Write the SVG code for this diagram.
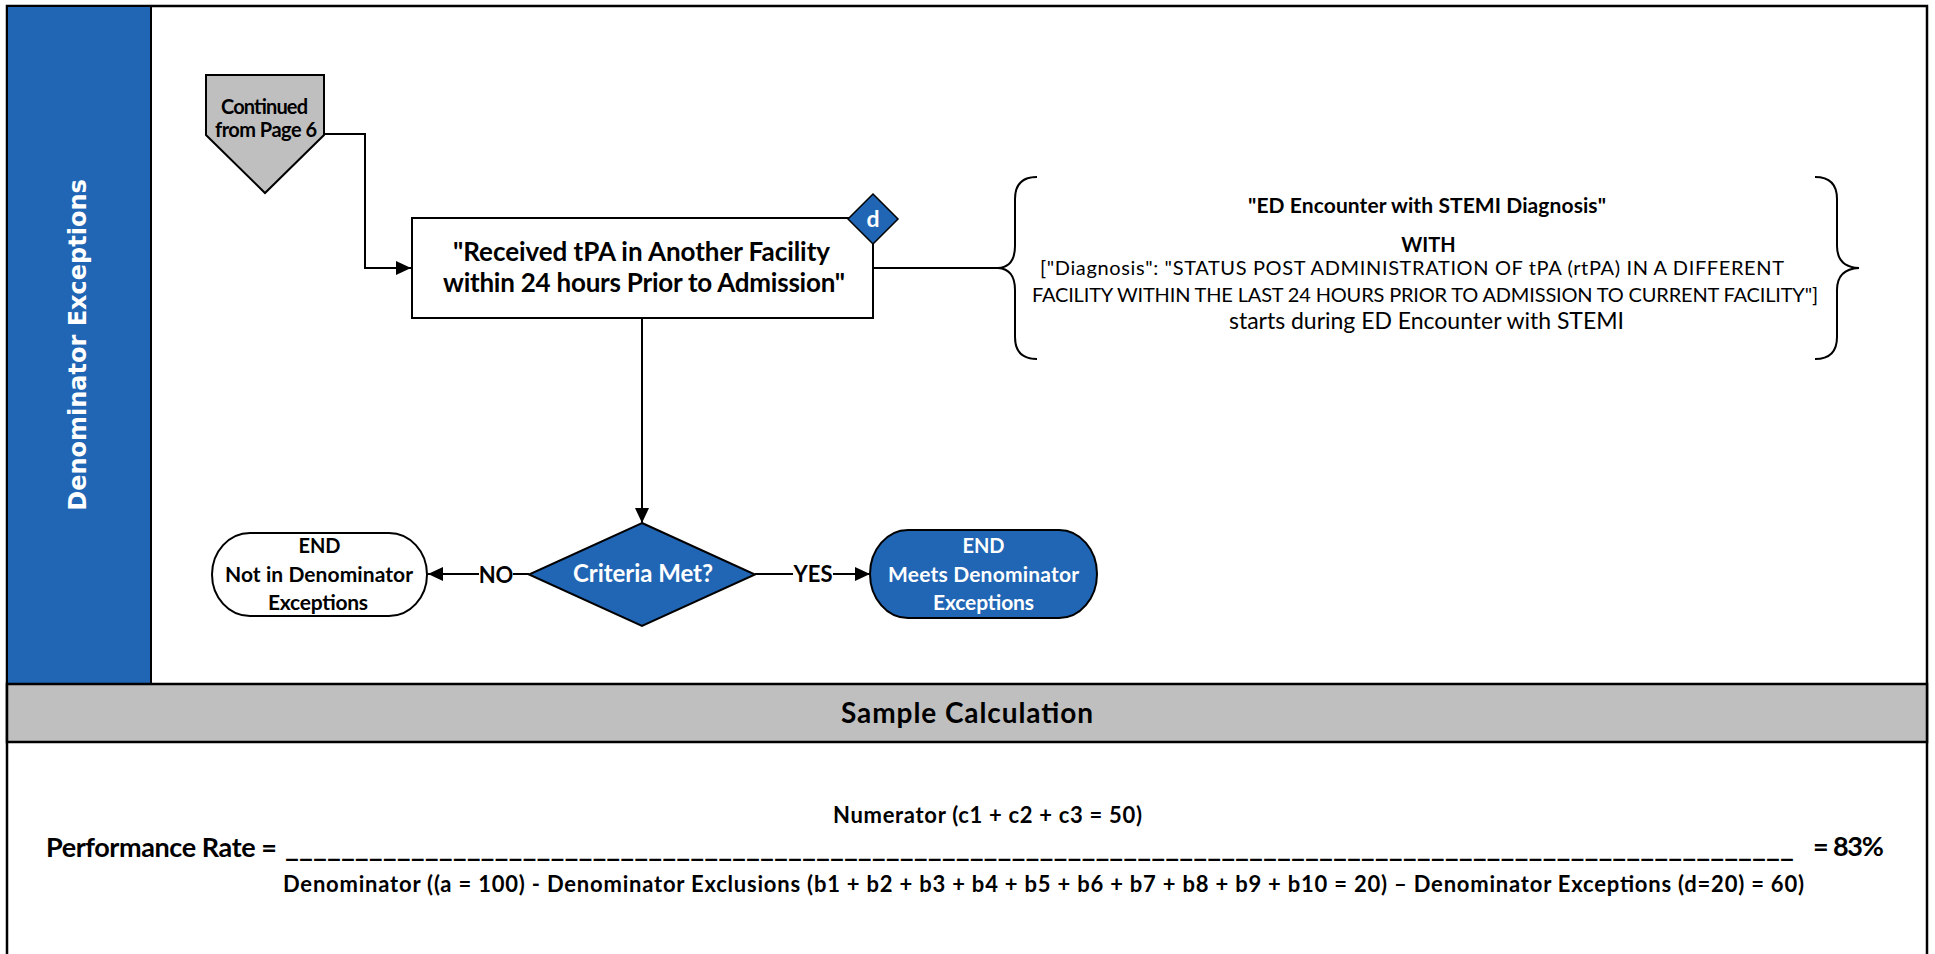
<svg xmlns="http://www.w3.org/2000/svg" width="1935" height="954" viewBox="0 0 1935 954">
<style>
.t{font-family:Lato,'Liberation Sans',sans-serif;fill:#000}
.b{font-weight:bold}
.w{fill:#fff}
.m{text-anchor:middle}
.ln{stroke:#000;stroke-width:2;fill:none}
.blue{fill:#2166B4}
.gray{fill:#BFBFBF}
</style>
<defs>
<marker id="arr" viewBox="0 0 15 14" refX="15" refY="7" markerWidth="15" markerHeight="14" markerUnits="userSpaceOnUse" orient="auto">
<path d="M0,0 L15,7 L0,14 z" fill="#000"/>
</marker>
</defs>
<rect x="0" y="0" width="1935" height="954" fill="#fff"/>

<g id="frame">
<rect x="7" y="6" width="1920" height="960" fill="#fff" stroke="#000" stroke-width="2.5"/>
<rect x="7" y="6" width="144" height="678" class="blue" stroke="#000" stroke-width="2"/>
<text class="t b w m" x="86" y="345" transform="rotate(-90 86 345)" style="font-family:'DejaVu Sans',Verdana,sans-serif;font-size:24px">Denominator Exceptions</text>
<rect x="7" y="684" width="1920" height="58" class="gray" stroke="#000" stroke-width="2.5"/>
<text class="t b m" x="967" y="723" font-size="28" textLength="252">Sample Calculation</text>
</g>

<g id="connectors">
<path class="ln" d="M324 134 H365 V268 H411" marker-end="url(#arr)"/>
<path class="ln" d="M873 268 H998"/>
<path class="ln" d="M642 318 V523" marker-end="url(#arr)"/>
<path class="ln" d="M529 574 H428" marker-end="url(#arr)"/>
<path class="ln" d="M755 574 H870" marker-end="url(#arr)"/>
<rect x="479" y="562" width="34" height="24" fill="#fff"/>
<text class="t b m" x="496" y="583" font-size="22">NO</text>
<rect x="793" y="562" width="40" height="24" fill="#fff"/>
<text class="t b m" x="813" y="582" font-size="22">YES</text>
</g>

<g id="offpage">
<polygon points="206,75 324,75 324,135 265,193 206,135" class="gray" stroke="#000" stroke-width="2"/>
<text class="t b m" x="264.5" y="114" font-size="20" textLength="87">Continued</text>
<text class="t b m" x="266" y="137" font-size="20" textLength="102">from Page 6</text>
</g>

<g id="process">
<rect x="412" y="218" width="461" height="100" fill="#fff" stroke="#000" stroke-width="2"/>
<text class="t b m" x="641.5" y="261" font-size="26" textLength="377">"Received tPA in Another Facility</text>
<text class="t b m" x="644" y="292" font-size="26" textLength="402">within 24 hours Prior to Admission"</text>
</g>

<g id="marker-d">
<polygon points="873,194 898,219 873,244 848,219" class="blue" stroke="#000" stroke-width="1.5"/>
<text class="t b w m" x="873" y="227" font-size="23">d</text>
</g>

<g id="brace-note">
<path class="ln" d="M1037 177 Q1015 177 1015 199 L1015 246 Q1015 267 998 268 Q1015 269 1015 290 L1015 337 Q1015 359 1037 359"/>
<path class="ln" d="M1815 177 Q1837 177 1837 199 L1837 246 Q1837 267 1859 268 Q1837 269 1837 290 L1837 337 Q1837 359 1815 359"/>
<text class="t b m" x="1427" y="213" font-size="21" textLength="358">"ED Encounter with STEMI Diagnosis"</text>
<text class="t b m" x="1428.5" y="252" font-size="20">WITH</text>
<text class="t" x="1040" y="275" font-size="20" textLength="744">["Diagnosis": "STATUS POST ADMINISTRATION OF tPA (rtPA) IN A DIFFERENT</text>
<text class="t" x="1032" y="302" font-size="20" textLength="786">FACILITY WITHIN THE LAST 24 HOURS PRIOR TO ADMISSION TO CURRENT FACILITY"]</text>
<text class="t" x="1229" y="329" font-size="23" textLength="395">starts during ED Encounter with STEMI</text>
</g>

<g id="decision">
<polygon points="642,523 755,574.5 642,626 529,574.5" class="blue" stroke="#000" stroke-width="2"/>
<text class="t b w m" x="643" y="582" font-size="24" textLength="140">Criteria Met?</text>
</g>

<g id="end-no">
<rect x="212" y="533" width="215" height="83" rx="38" ry="41.5" fill="#fff" stroke="#000" stroke-width="2"/>
<text class="t b m" x="319.5" y="553" font-size="20">END</text>
<text class="t b m" x="319" y="582" font-size="21" textLength="188">Not in Denominator</text>
<text class="t b m" x="318" y="610" font-size="21" textLength="100">Exceptions</text>
</g>

<g id="end-yes">
<rect x="870" y="530" width="227" height="88" rx="38" ry="44" class="blue" stroke="#000" stroke-width="2"/>
<text class="t b w m" x="983.5" y="553" font-size="20">END</text>
<text class="t b w m" x="983.5" y="582" font-size="21" textLength="191">Meets Denominator</text>
<text class="t b w m" x="983.5" y="610" font-size="21" textLength="101">Exceptions</text>
</g>

<g id="calculation">
<text class="t b m" x="987.5" y="823" font-size="22" textLength="309">Numerator (c1 + c2 + c3 = 50)</text>
<text class="t b" x="46" y="857" font-size="27" textLength="231">Performance Rate =</text>
<text class="t b" x="285" y="857" font-size="27" textLength="1509" lengthAdjust="spacingAndGlyphs">____________________________________________________________________________________________________________</text>
<text class="t b" x="1813" y="856" font-size="27" textLength="71">= 83%</text>
<text class="t b" x="283" y="892" font-size="22" textLength="1521">Denominator ((a = 100) - Denominator Exclusions (b1 + b2 + b3 + b4 + b5 + b6 + b7 + b8 + b9 + b10 = 20) – Denominator Exceptions (d=20) = 60)</text>
</g>
</svg>
